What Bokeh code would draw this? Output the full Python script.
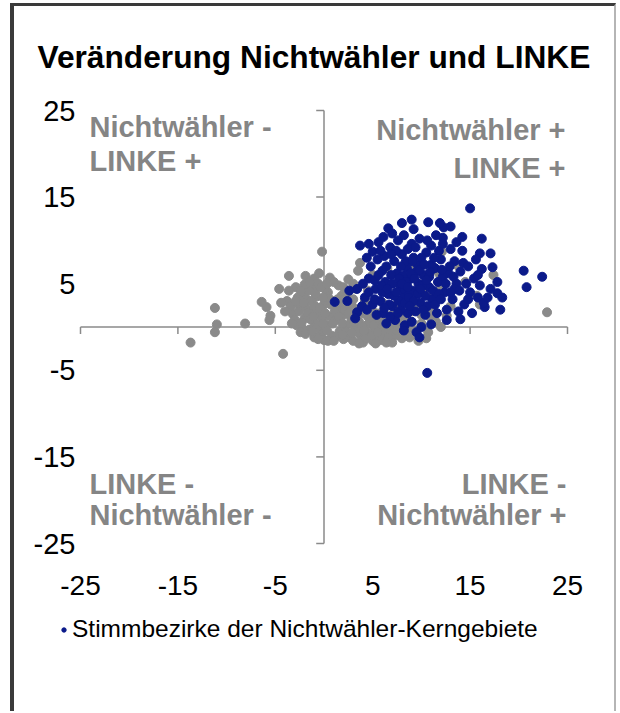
from bokeh.plotting import figure
from bokeh.models import (Label, Legend, LegendItem, FixedTicker, Range1d)
from bokeh.embed import file_html
from bokeh.resources import INLINE

# ---------------- data ----------------
title_text = "Veränderung Nichtwähler und LINKE"
legend_label = "Stimmbezirke der Nichtwähler-Kerngebiete"
x_ticks = [-25, -15, -5, 5, 15, 25]
y_ticks = [-25, -15, -5, 5, 15, 25]

# all voting districts (gray), (change non-voters, change LINKE)
gray_pts = [
    (-13.7, -1.8), (-11.2, 2.2), (-11.0, 0.3), (-11.2, -0.6), (-8.1, 0.4), (-6.4, 2.9),
    (-5.9, 2.3), (-5.5, 1.3), (-5.6, 0.8), (-4.2, -3.1), (-4.6, 4.4), (-3.6, 5.9),
    (-1.9, 5.9), (-0.2, 8.7), (-3.8, 3.0), (-3.2, 1.5), (-2.8, 0.2), (-2.2, 3.9),
    (-1.1, 4.6), (0.6, 5.7), (3.7, 7.4), (3.5, 6.5), (12.1, 8.7), (17.4, 6.0),
    (22.9, 1.7), (12.6, 1.3), (15.7, 3.6), (8.8, -1.2), (9.7, -1.6), (10.7, -0.6),
    (-2.5, 2.5), (-2.0, 1.0), (-1.8, 3.2), (-1.5, -0.3), (-1.2, 2.0), (-1.0, 0.5),
    (-0.8, 3.5), (-0.5, 1.5), (-0.3, -0.8), (0.0, 2.6), (0.2, 0.2), (0.4, 4.0),
    (0.6, 1.2), (0.8, -1.0), (1.0, 3.0), (1.2, 0.8), (1.4, 2.0), (1.6, -0.5),
    (1.8, 3.6), (2.0, 1.4), (2.2, 0.0), (2.4, 2.6), (2.6, -1.2), (2.8, 1.0),
    (3.0, 3.2), (3.2, -0.2), (3.4, 2.0), (3.6, 0.6), (3.8, -1.0), (4.0, 1.6),
    (4.2, 3.0), (4.4, 0.2), (4.6, -0.8), (4.8, 2.2), (5.0, 1.0), (5.2, -0.3),
    (5.4, 0.4), (5.6, -1.2), (5.8, 1.6), (6.0, 0.0), (6.2, -0.8), (6.5, 0.8),
    (6.8, -0.4), (7.0, 1.4), (7.3, -1.0), (7.6, 0.2), (8.0, -0.6), (8.3, 1.0),
    (8.6, -0.2), (9.0, 0.6), (9.4, -0.4), (10.0, 0.4), (11.0, 2.0), (11.5, 0.6),
    (13.0, 2.4), (14.5, 5.2), (13.8, 7.0), (16.0, 2.6), (-0.2, -0.3), (0.5, 3.3),
    (-1.6, 4.2), (-2.9, 4.6), (-0.6, 5.0), (1.5, 4.8), (2.5, 5.5), (2.0, -1.4),
    (0.0, -1.5), (-1.0, -1.2), (3.0, -1.6), (4.0, -1.8), (5.0, -1.6), (-2.2, -0.2),
    (-3.0, 0.8), (-2.6, 1.8), (-0.2, 1.0), (1.1, 1.8), (2.3, 3.6), (3.3, 4.4),
    (4.5, 4.2), (6.0, 2.8), (7.5, 2.6), (9.5, 2.2), (10.5, 3.8), (12.0, 4.5),
    (11.8, 6.2), (9.0, 7.0), (6.5, 6.8), (5.0, 6.0), (7.0, -1.8), (8.0, -1.3),
    (-2.7, 3.4), (-2.3, 0.5), (-1.9, 2.3), (-1.7, 1.6), (-1.4, 0.9), (-1.3, 3.0),
    (-0.9, 2.4), (-0.7, 0.0), (-0.4, 2.2), (-0.1, 3.4), (0.1, 1.6), (0.3, -0.4),
    (0.7, 2.6), (0.9, 0.4), (1.3, -1.1), (1.5, 1.2), (1.7, 2.8), (1.9, 0.4),
    (2.1, 2.0), (2.3, -0.6), (2.5, 1.6), (2.7, 0.4), (2.9, 2.4), (3.1, 0.6),
    (3.3, 1.2), (3.5, -0.6), (3.7, 1.8), (3.9, 0.0), (4.1, 2.4), (4.3, -1.3),
    (4.5, 1.2), (4.7, 0.6), (4.9, -1.0), (5.1, 0.2), (5.3, 1.6), (5.5, -0.6),
    (5.7, 0.8), (5.9, -1.5), (6.1, 0.6), (6.3, 1.4), (6.6, -1.2), (6.9, 0.2),
    (7.2, 0.6), (7.5, -0.4), (7.8, 1.0), (8.2, 0.2), (8.5, -1.0), (8.9, 0.0),
    (-3.4, 2.4), (-3.3, 0.4), (-2.4, -0.6), (-1.9, -0.8), (-1.2, -0.5), (-0.6, -1.4),
    (0.4, -1.6), (1.0, -1.6), (-2.0, 4.9), (-1.0, 5.6), (0.1, 4.4), (-0.5, 6.2),
    (1.0, 5.2), (2.0, 4.6), (3.0, 5.0), (-4.0, 1.8), (-4.4, 2.8), (-3.6, 4.2),
    (10.0, 1.4), (9.0, 1.8), (11.0, 1.0), (12.0, 0.0), (10.5, -1.3),
    (-2.9, 3.0), (-2.4, 4.2), (-1.5, 5.2), (-0.9, 3.9), (-0.3, 4.6), (0.3, 5.0),
    (-2.1, 2.8), (-1.1, 1.2), (-0.1, 0.4), (1.9, -0.9), (2.9, -0.7), (4.1, -0.4),
    (5.3, -1.9), (6.4, -1.8), (3.6, -1.9), (1.4, 3.2),
]

# core areas of non-voters (navy)
navy_pts = [
    (15.0, 13.7), (10.7, 12.1), (6.6, 11.4), (7.0, 10.8), (9.2, 11.3), (12.3, 11.5),
    (12.2, 10.3), (16.2, 10.2), (3.7, 9.4), (5.0, 8.7), (14.2, 8.8), (16.0, 8.5),
    (17.1, 8.5), (14.3, 7.4), (16.2, 6.7), (17.3, 6.9), (20.5, 6.5), (22.4, 5.8),
    (20.8, 4.6), (16.0, 4.8), (17.1, 4.4), (17.8, 3.9), (18.3, 3.4), (16.5, 2.3),
    (18.1, 2.0), (1.1, 2.9), (3.4, 4.4), (3.4, 1.7), (3.2, 1.0), (10.6, -5.3),
    (8.3, 0.2),
    (5.5, 7.8), (6.0, 6.5), (6.3, 5.2), (6.8, 9.2), (7.2, 7.6), (7.5, 6.2),
    (7.8, 4.8), (8.0, 8.4), (8.2, 3.6), (8.5, 6.8), (8.8, 5.5), (9.0, 9.6),
    (9.3, 4.2), (9.6, 7.2), (9.9, 2.8), (10.2, 6.0), (10.5, 8.6), (10.8, 4.6),
    (11.1, 3.2), (11.4, 6.8), (11.7, 5.2), (12.0, 7.8), (12.4, 4.0), (12.8, 6.2),
    (13.2, 3.2), (13.6, 5.0), (14.0, 6.4), (14.4, 2.6), (15.0, 4.0), (15.4, 5.6),
    (4.2, 3.4), (4.6, 5.6), (5.0, 2.6), (5.3, 4.4), (5.8, 3.0), (6.1, 1.6),
    (6.6, 3.8), (7.0, 2.4), (7.3, 0.8), (7.7, 3.0), (8.6, 1.6), (9.0, 0.6),
    (9.4, 1.8), (10.0, 0.0), (10.4, 1.4), (11.6, 1.6), (12.6, 2.0), (13.8, 1.8),
    (4.8, 7.0), (5.6, 9.8), (7.6, 10.0), (8.6, 9.0), (9.8, 10.2), (11.0, 9.4),
    (11.8, 8.8), (13.0, 9.0), (13.4, 7.6), (8.1, 5.9), (8.9, 4.0), (9.7, 5.0),
    (10.4, 3.6), (7.0, 5.0), (6.4, 7.0), (11.0, 7.2), (12.2, 5.8), (9.2, 8.0),
    (10.0, 8.0), (7.9, 2.0), (6.7, 2.6), (8.4, 7.6), (9.5, 6.4), (10.8, 5.8),
    (4.0, 5.0), (3.9, 2.4), (2.6, 4.2), (2.4, 3.0), (14.8, 3.2), (15.8, 3.4),
    (13.0, 11.6), (8.0, 12.0), (5.2, 5.4), (6.0, 4.0), (11.5, 10.6), (14.2, 10.4),
    (12.6, 0.8), (9.5, -0.6), (8.2, -0.4), (16.4, 2.8), (15.2, 1.6), (13.4, 4.4),
    (5.2, 3.2), (5.6, 6.0), (5.9, 4.8), (6.2, 8.2), (6.5, 4.4), (6.9, 6.0),
    (7.2, 3.6), (7.4, 8.8), (7.7, 5.6), (7.9, 7.0), (8.1, 4.4), (8.3, 2.8),
    (8.4, 5.2), (8.7, 3.4), (8.9, 6.2), (9.1, 7.6), (9.3, 5.6), (9.6, 3.8),
    (9.8, 6.6), (10.1, 4.8), (10.3, 7.2), (10.6, 2.4), (10.9, 6.4), (11.2, 4.2),
    (11.3, 8.0), (11.8, 3.8), (12.1, 6.6), (12.5, 5.0), (12.9, 7.0), (13.3, 5.8),
    (13.9, 4.2), (14.6, 5.0), (7.4, 4.0), (8.0, 5.0), (8.6, 4.6), (9.2, 3.0),
    (9.9, 4.4), (10.5, 5.4), (6.2, 2.2), (5.4, 1.4), (4.4, 2.0), (4.6, 4.0),
    (6.8, 1.2), (7.6, 1.6), (8.8, 2.4), (10.2, 2.0), (11.4, 2.6), (12.0, 3.2),
    (13.0, 4.0), (12.2, 9.6), (10.6, 10.0), (9.4, 9.2), (8.2, 10.6), (6.9, 8.4),
    (5.8, 8.8), (4.4, 8.0), (13.6, 9.8), (14.8, 7.0), (15.6, 7.8), (15.8, 6.0),
    (9.0, 12.4), (11.9, 12.0), (6.1, 10.4), (4.6, 9.6), (17.8, 5.2), (16.8, 3.4),
    (14.0, 0.9), (11.0, 0.3), (6.4, 0.4), (9.8, -1.2),
]

gray_x = [p[0] for p in gray_pts]
gray_y = [p[1] for p in gray_pts]
navy_x = [p[0] for p in navy_pts]
navy_y = [p[1] for p in navy_pts]

# ---------------- layout / styles ----------------
FONT = "Liberation Sans"
GRAY = "#8a8a8a"
NAVY = "#0b1a8a"
LABEL_GRAY = "#858585"

W, H = 606, 708                 # canvas size
PX_X, PX_Y = 9.74, 8.66         # pixels per data unit
B_LEFT, B_RIGHT, B_TOP, B_BOTTOM = 44, 20, 94, 65
AX_OFF_X = 22                   # frame left edge to x = -25 (px)
AX_OFF_Y = 10                   # frame top edge to y = 25 (px)

frame_w = W - B_LEFT - B_RIGHT
frame_h = H - B_TOP - B_BOTTOM
x0 = x_ticks[0] - AX_OFF_X / PX_X
y1 = y_ticks[-1] + AX_OFF_Y / PX_Y

p = figure(width=W, height=H, output_backend="svg", toolbar_location=None,
           x_range=Range1d(x0, x0 + frame_w / PX_X), y_range=Range1d(y1 - frame_h / PX_Y, y1),
           min_border_left=B_LEFT, min_border_right=B_RIGHT,
           min_border_top=B_TOP, min_border_bottom=B_BOTTOM,
           styles={"margin-left": "10px", "margin-top": "3px",
                   "border-left": "4px solid #3a3a3a", "border-top": "3px solid #3a3a3a",
                   "border-right": "2px solid #b5b5b5"})
p.grid.visible = False
p.outline_line_color = None
p.background_fill_color = "white"
p.border_fill_color = "white"

# title
p.title.text = title_text
p.title.text_font = FONT
p.title.text_font_style = "bold"
p.title.text_font_size = "31.7px"
p.title.text_color = "black"
p.title.align = "left"
p.title.offset = -21
p.title.standoff = 52

# tick-label axes
p.xaxis.fixed_location = y_ticks[0]
for ax, ticks, standoff, fs in ((p.xaxis[0], x_ticks, 32, "28px"), (p.yaxis[0], y_ticks, -AX_OFF_X + 5, "29px")):
    ax.ticker = FixedTicker(ticks=ticks)
    ax.major_label_overrides = {t: str(t) for t in ticks}
    ax.axis_line_color = None
    ax.major_tick_line_color = None
    ax.minor_tick_line_color = None
    ax.major_tick_out = 0
    ax.major_tick_in = 0
    ax.major_label_text_font = FONT
    ax.major_label_text_font_size = fs
    ax.major_label_text_color = "black"
    ax.major_label_standoff = standoff

# crossing axis lines at zero with ticks
n = len(x_ticks)
m = len(y_ticks)
p.segment(x0=[x_ticks[0]], y0=[0], x1=[x_ticks[-1]], y1=[0], line_color=GRAY, line_width=1.5)
p.segment(x0=[0], y0=[y_ticks[0]], x1=[0], y1=[y_ticks[-1]], line_color=GRAY, line_width=1.5)
p.segment(x0=x_ticks, y0=[0] * n, x1=x_ticks, y1=[-0.8] * n, line_color=GRAY, line_width=1.5)
p.segment(x0=[0] * m, y0=y_ticks, x1=[-0.8] * m, y1=y_ticks, line_color=GRAY, line_width=1.5)

# points
p.scatter(gray_x, gray_y, size=9, fill_color=GRAY, line_color=GRAY)
navy_r = p.scatter(navy_x, navy_y, size=9, fill_color=NAVY, line_color=NAVY)

# quadrant labels
quad = [
    ("Nichtwähler -", -24.08, 23.1, "left"), ("LINKE +", -24.08, 19.2, "left"),
    ("Nichtwähler +", 24.8, 22.8, "right"), ("LINKE +", 24.8, 18.4, "right"),
    ("LINKE -", -24.08, -18.1, "left"), ("Nichtwähler -", -24.08, -21.75, "left"),
    ("LINKE -", 24.9, -18.1, "right"), ("Nichtwähler +", 24.9, -21.75, "right"),
]
for txt, xx, yy, al in quad:
    p.add_layout(Label(x=xx, y=yy, text=txt, text_font=FONT, text_font_style="bold",
                       text_font_size="29px", text_color=LABEL_GRAY, text_align=al,
                       text_baseline="middle"))

# legend at the bottom-left inside the data area
legend = Legend(items=[LegendItem(label=legend_label, renderers=[navy_r])],
                location=(0, 6), glyph_width=11, glyph_height=11,
                label_text_font=FONT, label_text_font_size="24.5px", label_text_color="black",
                label_standoff=3, padding=0, margin=0, border_line_color=None,
                background_fill_alpha=0)
p.add_layout(legend)

open("out.html", "w").write(file_html(p, INLINE))
